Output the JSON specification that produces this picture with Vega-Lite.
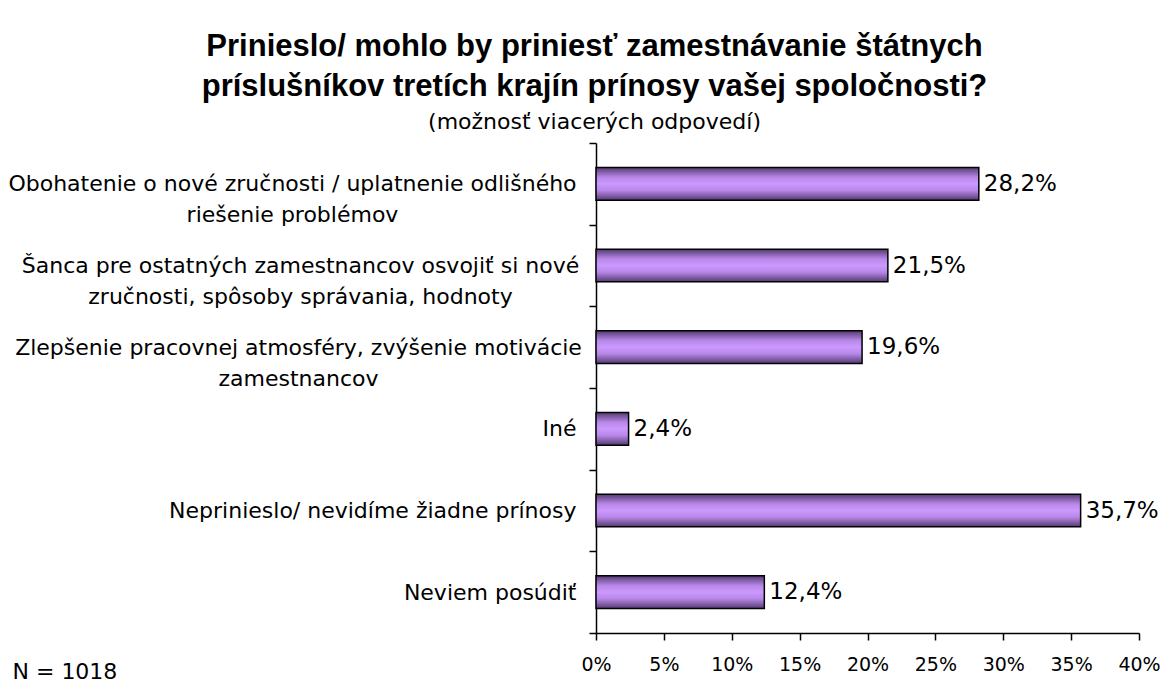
{
  "$schema": "https://vega.github.io/schema/vega-lite/v6.json",
  "autosize": "none",
  "width": 543,
  "height": 490,
  "padding": {"left": 596, "top": 143, "right": 22, "bottom": 50},
  "background": "white",
  "config": {
    "locale": {"number": {"decimal": ",", "thousands": " ", "grouping": [3], "currency": ["", " €"]}},
    "view": {"stroke": null},
    "font": "DejaVu Sans"
  },
  "title": {
    "text": ["Prinieslo/ mohlo by priniesť zamestnávanie štátnych", "príslušníkov tretích krajín prínosy vašej spoločnosti?"],
    "subtitle": "(možnosť viacerých odpovedí)",
    "anchor": "middle",
    "frame": "group",
    "dx": -273,
    "offset": -2,
    "font": "Liberation Sans",
    "fontSize": 31,
    "fontWeight": "bold",
    "color": "black",
    "lineHeight": 40,
    "subtitleFont": "DejaVu Sans",
    "subtitleFontSize": 22,
    "subtitleColor": "black",
    "subtitlePadding": 9
  },
  "data": {
    "values": [
      {"kategoria": "Obohatenie o nové zručnosti / uplatnenie odlišného|riešenie problémov", "podiel": 0.282},
      {"kategoria": "Šanca pre ostatných zamestnancov osvojiť si nové|zručnosti, spôsoby správania, hodnoty", "podiel": 0.215},
      {"kategoria": "Zlepšenie pracovnej atmosféry, zvýšenie motivácie|zamestnancov", "podiel": 0.196},
      {"kategoria": "Iné", "podiel": 0.024},
      {"kategoria": "Neprinieslo/ nevidíme žiadne prínosy", "podiel": 0.357},
      {"kategoria": "Neviem posúdiť", "podiel": 0.124}
    ]
  },
  "encoding": {
    "y": {
      "field": "kategoria",
      "type": "nominal",
      "sort": null,
      "scale": {"paddingInner": 0, "paddingOuter": 0},
      "axis": {
        "title": null,
        "domainColor": "black",
        "domainWidth": 1.5,
        "tickColor": "black",
        "tickWidth": 1.5,
        "tickSize": 7,
        "tickBand": "extent",
        "labelExpr": "datum.label ? split(datum.label, '|') : ''",
        "labelFont": "DejaVu Sans",
        "labelFontSize": 22,
        "labelColor": "black",
        "labelLineHeight": 31,
        "labelLimit": 700,
        "labelBaseline": "middle",
        "labelAlign": {"condition": {"test": "datum.value && indexof(datum.value, '|') >= 0", "value": "center"}, "value": "right"},
        "labelPadding": {
          "condition": [
            {"test": "datum.value && indexof(datum.value, 'Obohatenie') == 0", "value": 297},
            {"test": "datum.value && indexof(datum.value, 'Šanca') == 0", "value": 289},
            {"test": "datum.value && indexof(datum.value, 'Zlepšenie') == 0", "value": 291}
          ],
          "value": 13
        }
      }
    },
    "x": {
      "field": "podiel",
      "type": "quantitative",
      "scale": {"domain": [0, 0.4]},
      "axis": {
        "title": "N = 1018",
        "titleFont": "DejaVu Sans",
        "titleFontSize": 22,
        "titleFontWeight": "normal",
        "titleColor": "black",
        "titleAlign": "left",
        "titleBaseline": "alphabetic",
        "titleX": -584,
        "titleY": 45,
        "format": ".0%",
        "values": [0, 0.05, 0.1, 0.15, 0.2, 0.25, 0.3, 0.35, 0.4],
        "grid": false,
        "domainColor": "black",
        "domainWidth": 1.5,
        "tickColor": "black",
        "tickWidth": 1.5,
        "tickSize": 7,
        "labelFont": "DejaVu Sans",
        "labelFontSize": 19,
        "labelColor": "black",
        "labelPadding": 15,
        "labelFlush": false
      }
    }
  },
  "layer": [
    {
      "mark": {
        "type": "bar",
        "height": {"band": 0.4},
        "stroke": "black",
        "strokeWidth": 1.5,
        "color": {
          "gradient": "linear",
          "x1": 0, "y1": 0, "x2": 0, "y2": 1,
          "stops": [
            {"offset": 0, "color": "#553a72"},
            {"offset": 0.3, "color": "#b888e8"},
            {"offset": 0.5, "color": "#cc99ff"},
            {"offset": 0.7, "color": "#b888e8"},
            {"offset": 1, "color": "#553a72"}
          ]
        }
      }
    },
    {
      "mark": {"type": "text", "align": "left", "baseline": "middle", "dx": 5, "font": "DejaVu Sans", "fontSize": 23, "color": "black"},
      "encoding": {"text": {"field": "podiel", "type": "quantitative", "format": ".1%"}}
    }
  ]
}
